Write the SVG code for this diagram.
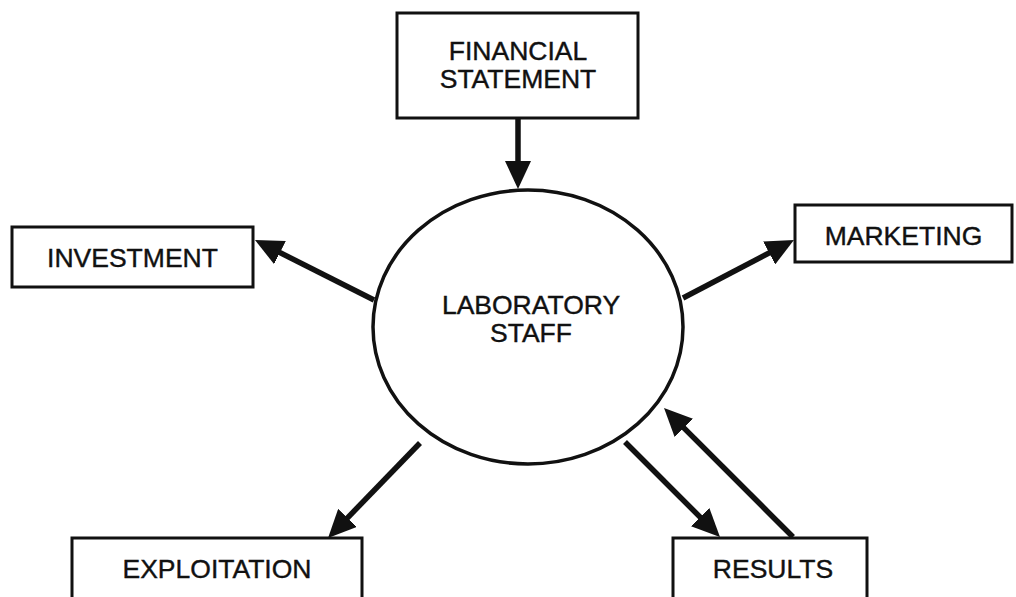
<svg xmlns="http://www.w3.org/2000/svg" width="1016" height="597" viewBox="0 0 1016 597">
<style>
.box{fill:#fff;stroke:#111;stroke-width:3}
.lbl{font-family:"Liberation Sans",Arial,sans-serif;font-size:26.5px;fill:#111;stroke:#111;stroke-width:0.4;text-anchor:middle}
.arr{stroke:#111;stroke-width:5.5;fill:none;marker-end:url(#ah)}
</style>
<defs>
<marker id="ah" markerUnits="userSpaceOnUse" viewBox="0 0 28 26" refX="18" refY="13" markerWidth="28" markerHeight="26" orient="auto">
<path d="M0,0 L28,13 L0,26 z" fill="#111"/>
</marker>
</defs>
<rect width="1016" height="597" fill="#fff"/>
<g id="connectors">
<line class="arr" x1="518" y1="118" x2="518" y2="179"/>
<line class="arr" x1="374" y1="300" x2="263.9" y2="244.5"/>
<line class="arr" x1="683" y1="298" x2="785.1" y2="244.6"/>
<line class="arr" x1="420" y1="443" x2="335" y2="530.8"/>
<line class="arr" x1="625" y1="442" x2="712.9" y2="529.9"/>
<line class="arr" x1="793" y1="537" x2="671.1" y2="415.1"/>
</g>
<g id="financial">
<rect class="box" x="397" y="13" width="241" height="105"/>
<text class="lbl" x="518" y="60">FINANCIAL</text>
<text class="lbl" x="518" y="88">STATEMENT</text>
</g>
<g id="lab">
<ellipse cx="528" cy="327" rx="155" ry="137" fill="#fff" stroke="#111" stroke-width="3.5"/>
<text class="lbl" x="531" y="314">LABORATORY</text>
<text class="lbl" x="531" y="342">STAFF</text>
</g>
<g id="investment">
<rect class="box" x="12" y="227" width="241" height="60"/>
<text class="lbl" x="132.5" y="267">INVESTMENT</text>
</g>
<g id="marketing">
<rect class="box" x="795" y="205" width="217" height="57"/>
<text class="lbl" x="903.5" y="245">MARKETING</text>
</g>
<g id="exploitation">
<rect class="box" x="72" y="538" width="290" height="80"/>
<text class="lbl" x="217" y="578">EXPLOITATION</text>
</g>
<g id="results">
<rect class="box" x="673" y="538" width="194" height="80"/>
<text class="lbl" x="773" y="578">RESULTS</text>
</g>
</svg>
